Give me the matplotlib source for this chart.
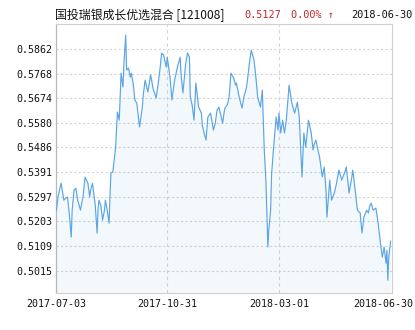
import matplotlib
matplotlib.use("Agg")
import matplotlib.pyplot as plt
import matplotlib.transforms as mtransforms
import pandas as pd

START = pd.Timestamp("2017-07-03")

# days after START
day_offsets = [
    0, 2, 5, 8, 10, 12, 14, 16, 17, 19, 21, 23, 26, 29, 31, 34, 36, 37, 39, 42,
    44, 45, 46, 48, 50, 52, 53, 55, 57, 58, 59, 61, 64, 65, 66, 68, 70, 72, 73, 75,
    76, 78, 80, 81, 83, 85, 87, 90, 93, 94, 96, 99, 102, 105, 106, 108, 110, 112, 114, 116,
    119, 120, 123, 125, 128, 131, 134, 135, 137, 140, 142, 144, 145, 147, 149, 151, 154, 157, 158, 160,
    162, 164, 167, 170, 172, 174, 176, 178, 180, 182, 183, 185, 187, 189, 192, 194, 195, 198, 201, 203,
    206, 209, 211, 214, 216, 218, 221, 223, 225, 227, 229, 230, 232, 233, 235, 238, 240, 241, 243, 245,
    247, 249, 252, 255, 258, 261, 263, 266, 268, 270, 273, 276, 278, 279, 281, 285, 288, 290, 292, 293,
    296, 298, 301, 303, 306, 309, 312, 314, 317, 320, 321, 324, 326, 329, 331, 333, 336, 338, 339, 341,
    343, 346, 348, 349, 351, 353, 355, 357, 358, 359, 360, 362,
]

nav = [
    0.5246, 0.5304, 0.5349, 0.5284, 0.5292, 0.5296, 0.5227, 0.5143, 0.5246, 0.5323,
    0.5330, 0.5284, 0.5246, 0.5304, 0.5372, 0.5349, 0.5296, 0.5323, 0.5349, 0.5265,
    0.5158, 0.5246, 0.5284, 0.5265, 0.5208, 0.5246, 0.5284, 0.5246, 0.5196, 0.5304,
    0.5388, 0.5391, 0.5483, 0.5552, 0.5621, 0.5590, 0.5770, 0.5717, 0.5801, 0.5916,
    0.5782, 0.5789, 0.5755, 0.5770, 0.5732, 0.5667, 0.5655, 0.5564, 0.5640, 0.5686,
    0.5743, 0.5698, 0.5763, 0.5705, 0.5698, 0.5675, 0.5724, 0.5782, 0.5847, 0.5839,
    0.5793, 0.5831, 0.5755, 0.5667, 0.5743, 0.5793, 0.5831, 0.5763, 0.5694, 0.5808,
    0.5847, 0.5831, 0.5678, 0.5648, 0.5590, 0.5732, 0.5640, 0.5617, 0.5571, 0.5541,
    0.5514, 0.5602, 0.5617, 0.5552, 0.5579, 0.5629, 0.5640, 0.5610, 0.5579, 0.5629,
    0.5640, 0.5648, 0.5678, 0.5770, 0.5751, 0.5724, 0.5732, 0.5678, 0.5636, 0.5678,
    0.5717, 0.5808, 0.5858, 0.5820, 0.5755, 0.5678, 0.5640, 0.5705, 0.5487, 0.5349,
    0.5105, 0.5170, 0.5246, 0.5380, 0.5476, 0.5602, 0.5552, 0.5617, 0.5541, 0.5590,
    0.5541, 0.5590, 0.5724, 0.5655, 0.5617, 0.5659, 0.5602, 0.5373, 0.5541, 0.5487,
    0.5590, 0.5541, 0.5476, 0.5495, 0.5514, 0.5449, 0.5373, 0.5411, 0.5323, 0.5219,
    0.5361, 0.5284, 0.5311, 0.5342, 0.5399, 0.5361, 0.5388, 0.5411, 0.5311, 0.5373,
    0.5399, 0.5311, 0.5246, 0.5235, 0.5158, 0.5219, 0.5246, 0.5235, 0.5258, 0.5273,
    0.5246, 0.5254, 0.5208, 0.5181, 0.5120, 0.5066, 0.5105, 0.5043, 0.5093, 0.4978,
    0.5066, 0.5127,
]

y_ticks = [0.5015, 0.5109, 0.5203, 0.5297, 0.5391, 0.5486, 0.5580, 0.5674, 0.5768, 0.5862]
x_tick_labels = ["2017-07-03", "2017-10-31", "2018-03-01", "2018-06-30"]

fund_name = "国投瑞银成长优选混合 [121008]"
last_nav = "0.5127"
last_change = "0.00% ↑"
last_date = "2018-06-30"

LINE_COLOR = "#5aa5e4"
GRID_COLOR = "#d4d4d4"
MONO = "DejaVu Sans Mono"

dates = [START + pd.Timedelta(days=d) for d in day_offsets]
tick_dates = pd.to_datetime(x_tick_labels)

fig = plt.figure(figsize=(4.15, 3.30), dpi=100)
ax = fig.add_axes([0.1361, 0.1121, 0.8096, 0.8152])

ax.plot(dates, nav, color=LINE_COLOR, linewidth=0.85, zorder=3)
ax.fill_between(dates, nav, 0.4929, color=LINE_COLOR, alpha=0.07, linewidth=0, zorder=2)

ax.set_ylim(0.4929, 0.5958)
ax.set_xlim(START, START + pd.Timedelta(days=364))

ax.set_yticks(y_ticks)
ax.set_yticklabels([f"{v:.4f}" for v in y_ticks])
ax.set_xticks(tick_dates)
ax.set_xticklabels(x_tick_labels)

for v in y_ticks:
    ax.axhline(v, color=GRID_COLOR, linestyle=(0, (2, 2)), linewidth=0.8, zorder=1)
for d in tick_dates[1:3]:
    ax.axvline(d, color=GRID_COLOR, linestyle=(0, (3, 3)), linewidth=0.8, zorder=1)

for side in ["top", "right", "bottom"]:
    ax.spines[side].set_color("#d0d0d0")
    ax.spines[side].set_linewidth(0.8)
ax.spines["left"].set_color("#b8b8b8")
ax.spines["left"].set_linewidth(0.9)

ax.tick_params(length=0, labelsize=7.2, labelcolor="#111111")
ax.tick_params(axis="y", pad=3)
ax.tick_params(axis="x", pad=4)
for lbl in ax.get_xticklabels() + ax.get_yticklabels():
    lbl.set_family(MONO)

# the last date label sits a bit left of its tick, as in the original
last_lbl = ax.get_xticklabels()[-1]
last_lbl.set_transform(last_lbl.get_transform() + mtransforms.ScaledTranslation(-7.5 / 100, 0, fig.dpi_scale_trans))

title_y = 1 - 15 / 330
fig.text(55 / 415, title_y, fund_name, family=["Noto Sans CJK SC", "DejaVu Sans"], fontsize=8.6,
         va="center", color="#111111")
fig.text(244 / 415, title_y, last_nav, family=MONO, fontsize=7.4, va="center", color="#c0282d")
fig.text(291 / 415, title_y, last_change, family=MONO, fontsize=7.4, va="center", color="#c0282d")
fig.text(351 / 415, title_y, last_date, family=MONO, fontsize=7.4, va="center", color="#111111")

fig.savefig("out.png", dpi=100)
